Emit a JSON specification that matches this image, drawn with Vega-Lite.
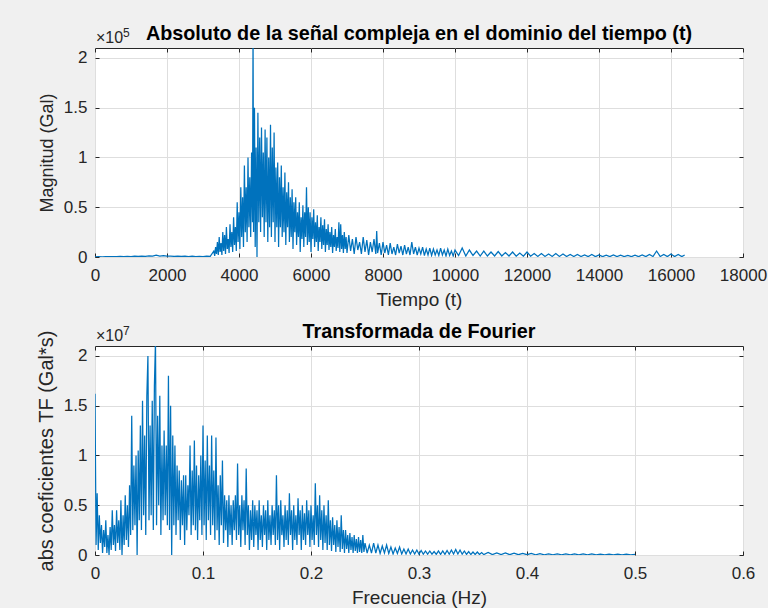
{
  "$schema": "https://vega.github.io/schema/vega-lite/v6.json",
  "background": "#f0f0f0",
  "padding": {"left": 35, "top": 23, "right": 0, "bottom": 0},
  "bounds": "flush",
  "spacing": 89,
  "config": {
    "font": "Liberation Sans",
    "view": {"fill": "white", "stroke": "#262626", "strokeWidth": 1},
    "axis": {
      "domain": false,
      "tickColor": "#262626",
      "tickSize": -4,
      "labelFont": "Liberation Sans",
      "labelFontSize": 17,
      "labelColor": "#262626",
      "titleFont": "Liberation Sans",
      "titleFontSize": 19,
      "titleFontWeight": "normal",
      "titleColor": "#262626",
      "gridColor": "#dedede",
      "gridWidth": 1,
      "labelFlush": false,
      "labelOverlap": false
    },
    "axisY": {"labelPadding": 12, "titlePadding": 7},
    "axisX": {"labelPadding": 14, "titlePadding": 7},
    "title": {"font": "Liberation Sans", "fontSize": 19.8, "fontWeight": "bold", "color": "#000000", "frame": "group", "offset": -17}
  },
  "datasets": {
    "sig": [
      {"t":0,"m":0.002},{"t":100,"m":0.004},{"t":200,"m":0.002},{"t":300,"m":0.004},{"t":400,"m":0.003},{"t":500,"m":0.005},{"t":600,"m":0.003},{"t":700,"m":0.006},{"t":800,"m":0.004},{"t":900,"m":0.007},{"t":1000,"m":0.005},{"t":1100,"m":0.008},{"t":1200,"m":0.006},{"t":1300,"m":0.009},{"t":1400,"m":0.007},{"t":1500,"m":0.012},{"t":1600,"m":0.008},{"t":1700,"m":0.018},{"t":1800,"m":0.01},{"t":1900,"m":0.014},{"t":2000,"m":0.008},{"t":2100,"m":0.01},{"t":2200,"m":0.006},{"t":2300,"m":0.009},{"t":2400,"m":0.006},{"t":2500,"m":0.008},{"t":2600,"m":0.005},{"t":2700,"m":0.008},{"t":2800,"m":0.005},{"t":2900,"m":0.007},{"t":3000,"m":0.005},{"t":3100,"m":0.008},{"t":3200,"m":0.006},
      {"t":3300,"m":0.06},{"t":3325,"m":0.01},{"t":3350,"m":0.1},{"t":3375,"m":0.03},{"t":3400,"m":0.15},{"t":3425,"m":0.02},{"t":3450,"m":0.2},{"t":3475,"m":0.05},{"t":3500,"m":0.14},{"t":3525,"m":0.02},{"t":3550,"m":0.25},{"t":3575,"m":0.06},{"t":3600,"m":0.22},{"t":3625,"m":0.03},{"t":3650,"m":0.3},{"t":3675,"m":0.08},{"t":3700,"m":0.18},{"t":3725,"m":0.04},{"t":3750,"m":0.33},{"t":3775,"m":0.1},{"t":3800,"m":0.25},{"t":3825,"m":0.05},{"t":3850,"m":0.4},{"t":3875,"m":0.12},{"t":3900,"m":0.3},{"t":3925,"m":0.06},{"t":3950,"m":0.55},{"t":3975,"m":0.15},{"t":4000,"m":0.45},{"t":4025,"m":0.08},{"t":4050,"m":0.7},{"t":4075,"m":0.2},{"t":4100,"m":0.6},{"t":4125,"m":0.1},{"t":4150,"m":0.92},{"t":4175,"m":0.25},{"t":4200,"m":0.7},{"t":4225,"m":0.15},{"t":4250,"m":1.0},{"t":4275,"m":0.3},{"t":4300,"m":0.8},{"t":4325,"m":0.2},{"t":4350,"m":1.05},{"t":4375,"m":0.35},{"t":4390,"m":2.3},{"t":4405,"m":0.25},{"t":4430,"m":1.5},{"t":4450,"m":0.1},{"t":4475,"m":1.1},{"t":4500,"m":0.0},{"t":4525,"m":1.45},{"t":4550,"m":0.35},{"t":4575,"m":1.2},{"t":4600,"m":0.25},{"t":4625,"m":1.3},{"t":4650,"m":0.4},{"t":4675,"m":1.05},{"t":4700,"m":0.2},{"t":4725,"m":1.28},{"t":4750,"m":0.35},{"t":4775,"m":1.2},{"t":4800,"m":0.15},{"t":4825,"m":1.0},{"t":4850,"m":0.3},{"t":4875,"m":1.33},{"t":4900,"m":0.2},{"t":4925,"m":1.1},{"t":4950,"m":0.35},{"t":4975,"m":1.25},{"t":5000,"m":0.15},{"t":5025,"m":0.9},{"t":5050,"m":0.3},{"t":5075,"m":0.95},{"t":5100,"m":0.1},{"t":5125,"m":0.8},{"t":5150,"m":0.3},{"t":5175,"m":0.92},{"t":5200,"m":0.2},{"t":5225,"m":0.7},{"t":5250,"m":0.25},{"t":5275,"m":0.85},{"t":5300,"m":0.12},{"t":5325,"m":0.65},{"t":5350,"m":0.3},{"t":5375,"m":0.75},{"t":5400,"m":0.15},{"t":5425,"m":0.6},{"t":5450,"m":0.2},{"t":5475,"m":0.68},{"t":5500,"m":0.08},{"t":5525,"m":0.55},{"t":5550,"m":0.25},{"t":5575,"m":0.6},{"t":5600,"m":0.12},{"t":5625,"m":0.45},{"t":5650,"m":0.2},{"t":5675,"m":0.55},{"t":5700,"m":0.05},{"t":5725,"m":0.4},{"t":5750,"m":0.18},{"t":5775,"m":0.52},{"t":5800,"m":0.1},{"t":5825,"m":0.45},{"t":5850,"m":0.2},{"t":5875,"m":0.7},{"t":5900,"m":0.12},{"t":5925,"m":0.5},{"t":5950,"m":0.15},{"t":5975,"m":0.45},{"t":6000,"m":0.05},{"t":6025,"m":0.4},{"t":6050,"m":0.18},{"t":6075,"m":0.48},{"t":6100,"m":0.1},{"t":6125,"m":0.35},{"t":6150,"m":0.15},{"t":6175,"m":0.42},{"t":6200,"m":0.06},{"t":6225,"m":0.3},{"t":6250,"m":0.15},{"t":6275,"m":0.4},{"t":6300,"m":0.08},{"t":6325,"m":0.32},{"t":6350,"m":0.12},{"t":6375,"m":0.38},{"t":6400,"m":0.05},{"t":6425,"m":0.28},{"t":6450,"m":0.12},{"t":6475,"m":0.33},{"t":6500,"m":0.07},{"t":6525,"m":0.25},{"t":6550,"m":0.1},{"t":6575,"m":0.3},{"t":6600,"m":0.04},{"t":6625,"m":0.22},{"t":6650,"m":0.1},{"t":6675,"m":0.28},{"t":6700,"m":0.06},{"t":6725,"m":0.2},{"t":6750,"m":0.09},{"t":6775,"m":0.35},{"t":6800,"m":0.05},{"t":6825,"m":0.33},{"t":6850,"m":0.08},{"t":6875,"m":0.22},{"t":6900,"m":0.04},{"t":6925,"m":0.25},{"t":6950,"m":0.08},{"t":6975,"m":0.2},{"t":7000,"m":0.04},
      {"t":7050,"m":0.22},{"t":7100,"m":0.06},{"t":7150,"m":0.18},{"t":7200,"m":0.03},{"t":7250,"m":0.2},{"t":7300,"m":0.07},{"t":7350,"m":0.15},{"t":7400,"m":0.03},{"t":7450,"m":0.2},{"t":7500,"m":0.05},{"t":7550,"m":0.17},{"t":7600,"m":0.02},{"t":7650,"m":0.15},{"t":7700,"m":0.05},{"t":7750,"m":0.18},{"t":7800,"m":0.03},{"t":7825,"m":0.26},{"t":7850,"m":0.04},{"t":7900,"m":0.14},{"t":7950,"m":0.02},{"t":8000,"m":0.15},{"t":8050,"m":0.04},{"t":8100,"m":0.12},{"t":8150,"m":0.02},{"t":8200,"m":0.14},{"t":8250,"m":0.03},{"t":8300,"m":0.1},{"t":8350,"m":0.02},{"t":8400,"m":0.13},{"t":8450,"m":0.04},{"t":8500,"m":0.11},{"t":8550,"m":0.02},{"t":8600,"m":0.12},{"t":8650,"m":0.03},{"t":8700,"m":0.1},{"t":8750,"m":0.02},{"t":8800,"m":0.15},{"t":8850,"m":0.03},{"t":8900,"m":0.1},{"t":8950,"m":0.02},{"t":9000,"m":0.09},{"t":9050,"m":0.03},{"t":9100,"m":0.1},{"t":9150,"m":0.015},{"t":9200,"m":0.08},{"t":9250,"m":0.02},{"t":9300,"m":0.09},{"t":9350,"m":0.015},{"t":9400,"m":0.08},{"t":9450,"m":0.02},{"t":9500,"m":0.07},{"t":9550,"m":0.015},{"t":9600,"m":0.09},{"t":9650,"m":0.02},{"t":9700,"m":0.07},{"t":9750,"m":0.01},{"t":9800,"m":0.08},{"t":9850,"m":0.015},{"t":9900,"m":0.06},{"t":9950,"m":0.01},{"t":10000,"m":0.07},
      {"t":10100,"m":0.015},{"t":10200,"m":0.09},{"t":10300,"m":0.01},{"t":10400,"m":0.07},{"t":10500,"m":0.015},{"t":10600,"m":0.06},{"t":10700,"m":0.01},{"t":10800,"m":0.06},{"t":10900,"m":0.01},{"t":11000,"m":0.05},{"t":11100,"m":0.01},{"t":11200,"m":0.055},{"t":11300,"m":0.01},{"t":11400,"m":0.045},{"t":11500,"m":0.01},{"t":11600,"m":0.05},{"t":11700,"m":0.008},{"t":11800,"m":0.04},{"t":11900,"m":0.008},{"t":12000,"m":0.05},{"t":12100,"m":0.008},{"t":12200,"m":0.035},{"t":12300,"m":0.006},{"t":12400,"m":0.035},{"t":12500,"m":0.006},{"t":12600,"m":0.03},{"t":12700,"m":0.006},{"t":12800,"m":0.035},{"t":12900,"m":0.006},{"t":13000,"m":0.03},{"t":13100,"m":0.005},{"t":13200,"m":0.025},{"t":13300,"m":0.005},{"t":13400,"m":0.025},{"t":13500,"m":0.005},{"t":13600,"m":0.02},{"t":13700,"m":0.004},{"t":13800,"m":0.025},{"t":13900,"m":0.004},{"t":14000,"m":0.02},{"t":14100,"m":0.004},{"t":14200,"m":0.018},{"t":14300,"m":0.004},{"t":14400,"m":0.02},{"t":14500,"m":0.004},{"t":14600,"m":0.018},{"t":14700,"m":0.004},{"t":14800,"m":0.016},{"t":14900,"m":0.004},{"t":15000,"m":0.018},{"t":15100,"m":0.004},{"t":15200,"m":0.02},{"t":15300,"m":0.004},{"t":15400,"m":0.025},{"t":15500,"m":0.005},{"t":15600,"m":0.06},{"t":15700,"m":0.005},{"t":15800,"m":0.025},{"t":15900,"m":0.004},{"t":16000,"m":0.03},{"t":16100,"m":0.004},{"t":16200,"m":0.025},{"t":16300,"m":0.004},{"t":16380,"m":0.02}
    ],
    "fft": [
      {"f":0.000,"a":1.62},{"f":0.001,"a":0.1},{"f":0.002,"a":0.62},{"f":0.003,"a":0.05},{"f":0.004,"a":0.4},{"f":0.005,"a":0.12},{"f":0.006,"a":0.3},{"f":0.007,"a":0.02},{"f":0.008,"a":0.25},{"f":0.009,"a":0.08},{"f":0.010,"a":0.35},{"f":0.011,"a":0.02},{"f":0.012,"a":0.2},{"f":0.013,"a":0.0},{"f":0.014,"a":0.28},{"f":0.015,"a":0.05},{"f":0.016,"a":0.45},{"f":0.017,"a":0.1},{"f":0.018,"a":0.3},{"f":0.019,"a":0.04},{"f":0.020,"a":0.45},{"f":0.021,"a":0.12},{"f":0.022,"a":0.35},{"f":0.023,"a":0.05},{"f":0.024,"a":0.55},{"f":0.025,"a":0.0},{"f":0.026,"a":0.4},{"f":0.027,"a":0.1},{"f":0.028,"a":0.6},{"f":0.029,"a":0.15},{"f":0.030,"a":0.5},{"f":0.031,"a":0.08},{"f":0.032,"a":0.7},{"f":0.033,"a":0.2},{"f":0.034,"a":1.4},{"f":0.035,"a":0.25},{"f":0.036,"a":0.9},{"f":0.037,"a":0.3},{"f":0.038,"a":1.0},{"f":0.039,"a":0.0},{"f":0.040,"a":1.05},{"f":0.041,"a":0.35},{"f":0.042,"a":1.3},{"f":0.043,"a":0.25},{"f":0.044,"a":1.55},{"f":0.045,"a":0.4},{"f":0.046,"a":1.2},{"f":0.047,"a":0.2},{"f":0.048,"a":1.6},{"f":0.049,"a":2.0},{"f":0.050,"a":0.35},{"f":0.051,"a":1.3},{"f":0.052,"a":0.4},{"f":0.053,"a":1.55},{"f":0.054,"a":0.25},{"f":0.055,"a":1.7},{"f":0.056,"a":2.15},{"f":0.057,"a":0.3},{"f":0.058,"a":1.4},{"f":0.059,"a":0.5},{"f":0.060,"a":1.6},{"f":0.061,"a":0.2},{"f":0.062,"a":1.1},{"f":0.063,"a":0.35},{"f":0.064,"a":1.25},{"f":0.065,"a":0.4},{"f":0.066,"a":1.1},{"f":0.067,"a":0.3},{"f":0.068,"a":1.8},{"f":0.069,"a":0.25},{"f":0.070,"a":1.5},{"f":0.071,"a":0.0},{"f":0.072,"a":1.2},{"f":0.073,"a":0.3},{"f":0.074,"a":1.1},{"f":0.075,"a":0.2},{"f":0.076,"a":0.9},{"f":0.077,"a":0.35},{"f":0.078,"a":0.85},{"f":0.079,"a":0.15},{"f":0.080,"a":0.75},{"f":0.081,"a":0.3},{"f":0.082,"a":0.8},{"f":0.083,"a":0.1},{"f":0.084,"a":0.8},{"f":0.085,"a":0.25},{"f":0.086,"a":0.7},{"f":0.087,"a":0.4},{"f":0.088,"a":1.1},{"f":0.089,"a":0.2},{"f":0.090,"a":0.85},{"f":0.091,"a":0.3},{"f":0.092,"a":1.15},{"f":0.093,"a":0.25},{"f":0.094,"a":0.9},{"f":0.095,"a":0.15},{"f":0.096,"a":0.8},{"f":0.097,"a":0.35},{"f":0.098,"a":1.0},{"f":0.099,"a":0.2},{"f":0.100,"a":1.3},{"f":0.101,"a":0.3},{"f":0.102,"a":0.95},{"f":0.103,"a":0.15},{"f":0.104,"a":1.2},{"f":0.105,"a":0.35},{"f":0.106,"a":0.9},{"f":0.107,"a":0.2},{"f":0.108,"a":1.2},{"f":0.109,"a":0.3},{"f":0.110,"a":0.85},{"f":0.111,"a":0.15},{"f":0.112,"a":1.18},{"f":0.113,"a":0.25},{"f":0.114,"a":0.7},{"f":0.115,"a":0.1},{"f":0.116,"a":0.8},{"f":0.117,"a":0.3},{"f":0.118,"a":0.95},{"f":0.119,"a":0.12},{"f":0.120,"a":0.6},{"f":0.121,"a":0.25},{"f":0.122,"a":0.55},{"f":0.123,"a":0.08},{"f":0.124,"a":0.6},{"f":0.125,"a":0.2},{"f":0.126,"a":0.5},{"f":0.127,"a":0.1},{"f":0.128,"a":0.55},{"f":0.129,"a":0.25},{"f":0.130,"a":0.6},{"f":0.131,"a":0.15},{"f":0.132,"a":0.92},{"f":0.133,"a":0.2},{"f":0.134,"a":0.5},{"f":0.135,"a":0.08},{"f":0.136,"a":0.6},{"f":0.137,"a":0.25},{"f":0.138,"a":0.55},{"f":0.139,"a":0.1},{"f":0.140,"a":0.87},{"f":0.141,"a":0.2},{"f":0.142,"a":0.5},{"f":0.143,"a":0.05},{"f":0.144,"a":0.45},{"f":0.145,"a":0.15},{"f":0.146,"a":0.55},{"f":0.147,"a":0.08},{"f":0.148,"a":0.5},{"f":0.149,"a":0.2},{"f":0.150,"a":0.45},{"f":0.151,"a":0.05},{"f":0.152,"a":0.55},{"f":0.153,"a":0.15},{"f":0.154,"a":0.4},{"f":0.155,"a":0.08},{"f":0.156,"a":0.5},{"f":0.157,"a":0.2},{"f":0.158,"a":0.45},{"f":0.159,"a":0.05},{"f":0.160,"a":0.55},{"f":0.161,"a":0.15},{"f":0.162,"a":0.4},{"f":0.163,"a":0.1},{"f":0.164,"a":0.5},{"f":0.165,"a":0.2},{"f":0.166,"a":0.45},{"f":0.167,"a":0.1},{"f":0.168,"a":0.8},{"f":0.169,"a":0.15},{"f":0.170,"a":0.5},{"f":0.171,"a":0.05},{"f":0.172,"a":0.55},{"f":0.173,"a":0.2},{"f":0.174,"a":0.4},{"f":0.175,"a":0.08},{"f":0.176,"a":0.5},{"f":0.177,"a":0.15},{"f":0.178,"a":0.45},{"f":0.179,"a":0.1},{"f":0.180,"a":0.62},{"f":0.181,"a":0.2},{"f":0.182,"a":0.45},{"f":0.183,"a":0.05},{"f":0.184,"a":0.5},{"f":0.185,"a":0.15},{"f":0.186,"a":0.4},{"f":0.187,"a":0.1},{"f":0.188,"a":0.57},{"f":0.189,"a":0.2},{"f":0.190,"a":0.45},{"f":0.191,"a":0.05},{"f":0.192,"a":0.5},{"f":0.193,"a":0.15},{"f":0.194,"a":0.42},{"f":0.195,"a":0.1},{"f":0.196,"a":0.55},{"f":0.197,"a":0.2},{"f":0.198,"a":0.45},{"f":0.199,"a":0.08},{"f":0.200,"a":0.5},{"f":0.201,"a":0.15},{"f":0.202,"a":0.4},{"f":0.203,"a":0.1},{"f":0.204,"a":0.72},{"f":0.205,"a":0.2},{"f":0.206,"a":0.5},{"f":0.207,"a":0.08},{"f":0.208,"a":0.6},{"f":0.209,"a":0.15},{"f":0.210,"a":0.45},{"f":0.211,"a":0.05},{"f":0.212,"a":0.5},{"f":0.213,"a":0.12},{"f":0.214,"a":0.4},{"f":0.215,"a":0.05},{"f":0.216,"a":0.55},{"f":0.217,"a":0.1},{"f":0.218,"a":0.35},{"f":0.219,"a":0.04},{"f":0.220,"a":0.38},{"f":0.221,"a":0.1},{"f":0.222,"a":0.3},{"f":0.223,"a":0.03},{"f":0.224,"a":0.35},{"f":0.225,"a":0.08},{"f":0.226,"a":0.28},{"f":0.227,"a":0.03},{"f":0.228,"a":0.4},{"f":0.229,"a":0.06},{"f":0.230,"a":0.25},{"f":0.231,"a":0.02},{"f":0.232,"a":0.25},{"f":0.233,"a":0.06},{"f":0.234,"a":0.2},{"f":0.235,"a":0.02},{"f":0.236,"a":0.22},{"f":0.237,"a":0.05},{"f":0.238,"a":0.18},{"f":0.239,"a":0.02},{"f":0.240,"a":0.2},{"f":0.241,"a":0.04},{"f":0.242,"a":0.16},{"f":0.243,"a":0.02},{"f":0.244,"a":0.18},{"f":0.245,"a":0.03},{"f":0.246,"a":0.15},{"f":0.247,"a":0.02},{"f":0.248,"a":0.2},{"f":0.249,"a":0.03},{"f":0.250,"a":0.12},
      {"f":0.252,"a":0.02},{"f":0.254,"a":0.1},{"f":0.256,"a":0.02},{"f":0.258,"a":0.12},{"f":0.260,"a":0.02},{"f":0.262,"a":0.1},{"f":0.264,"a":0.015},{"f":0.266,"a":0.09},{"f":0.268,"a":0.02},{"f":0.270,"a":0.1},{"f":0.272,"a":0.015},{"f":0.274,"a":0.08},{"f":0.276,"a":0.01},{"f":0.278,"a":0.07},{"f":0.280,"a":0.015},{"f":0.282,"a":0.08},{"f":0.284,"a":0.01},{"f":0.286,"a":0.06},{"f":0.288,"a":0.01},{"f":0.290,"a":0.06},{"f":0.292,"a":0.01},{"f":0.294,"a":0.05},{"f":0.296,"a":0.01},{"f":0.298,"a":0.05},{"f":0.300,"a":0.008},{"f":0.302,"a":0.045},{"f":0.304,"a":0.008},{"f":0.306,"a":0.04},{"f":0.308,"a":0.008},{"f":0.310,"a":0.04},{"f":0.312,"a":0.008},{"f":0.314,"a":0.035},{"f":0.316,"a":0.006},{"f":0.318,"a":0.04},{"f":0.320,"a":0.006},{"f":0.322,"a":0.04},{"f":0.324,"a":0.006},{"f":0.326,"a":0.045},{"f":0.328,"a":0.008},{"f":0.330,"a":0.05},{"f":0.332,"a":0.01},{"f":0.334,"a":0.055},{"f":0.336,"a":0.01},{"f":0.338,"a":0.05},{"f":0.340,"a":0.008},{"f":0.342,"a":0.04},{"f":0.344,"a":0.006},{"f":0.346,"a":0.035},{"f":0.348,"a":0.005},{"f":0.350,"a":0.03},{"f":0.352,"a":0.005},{"f":0.354,"a":0.03},{"f":0.356,"a":0.005},{"f":0.358,"a":0.025},{"f":0.360,"a":0.004},{"f":0.364,"a":0.025},{"f":0.368,"a":0.004},{"f":0.372,"a":0.022},{"f":0.376,"a":0.004},{"f":0.380,"a":0.02},{"f":0.384,"a":0.003},{"f":0.388,"a":0.018},{"f":0.392,"a":0.003},{"f":0.396,"a":0.016},{"f":0.400,"a":0.003},{"f":0.404,"a":0.015},{"f":0.408,"a":0.002},{"f":0.412,"a":0.013},{"f":0.416,"a":0.002},{"f":0.420,"a":0.012},{"f":0.424,"a":0.002},{"f":0.428,"a":0.012},{"f":0.432,"a":0.002},{"f":0.436,"a":0.011},{"f":0.440,"a":0.002},{"f":0.444,"a":0.01},{"f":0.448,"a":0.002},{"f":0.452,"a":0.01},{"f":0.456,"a":0.002},{"f":0.460,"a":0.01},{"f":0.464,"a":0.002},{"f":0.468,"a":0.009},{"f":0.472,"a":0.002},{"f":0.476,"a":0.009},{"f":0.480,"a":0.002},{"f":0.484,"a":0.008},{"f":0.488,"a":0.002},{"f":0.492,"a":0.008},{"f":0.496,"a":0.002},{"f":0.500,"a":0.006}
    ]
  },
  "vconcat": [
    {
      "width": 648,
      "height": 209,
      "title": {"text": "Absoluto de la señal compleja en el dominio del tiempo (t)"},
      "layer": [
        {
          "data": {"name": "sig"},
          "mark": {"type": "line", "color": "#0072BD", "strokeWidth": 1.25, "clip": true},
          "encoding": {
            "x": {"field": "t", "type": "quantitative", "scale": {"domain": [0, 18000], "nice": false, "zero": false},
                  "axis": {"values": [0,2000,4000,6000,8000,10000,12000,14000,16000,18000], "format": "~r", "title": "Tiempo (t)", "grid": true}},
            "y": {"field": "m", "type": "quantitative", "scale": {"domain": [0, 2.1], "nice": false},
                  "axis": {"values": [0,0.5,1,1.5,2], "format": "~r", "title": "Magnitud (Gal)", "titleFontSize": 18, "grid": true}}
          }
        },
        {
          "data": {"name": "sig"},
          "mark": {"type": "line", "strokeOpacity": 0},
          "encoding": {
            "x": {"field": "t", "type": "quantitative", "axis": {"orient": "top", "labels": false, "grid": false, "title": null, "values": [0,2000,4000,6000,8000,10000,12000,14000,16000,18000]}},
            "y": {"field": "m", "type": "quantitative", "axis": {"orient": "right", "labels": false, "grid": false, "title": null, "values": [0,0.5,1,1.5,2]}}
          }
        },
        {
          "data": {"values": [{"lab": "×10", "sup": "5"}]},
          "mark": {"type": "text", "align": "left", "baseline": "alphabetic", "dx": 1, "dy": -5, "fontSize": 16, "color": "#262626"},
          "encoding": {
            "x": {"datum": 0, "type": "quantitative", "axis": null},
            "y": {"datum": 2.1, "type": "quantitative", "axis": null},
            "text": {"field": "lab"}
          }
        },
        {
          "data": {"values": [{"lab": "×10", "sup": "5"}]},
          "mark": {"type": "text", "align": "left", "baseline": "alphabetic", "dx": 28, "dy": -11, "fontSize": 12, "color": "#262626"},
          "encoding": {
            "x": {"datum": 0, "type": "quantitative", "axis": null},
            "y": {"datum": 2.1, "type": "quantitative", "axis": null},
            "text": {"field": "sup"}
          }
        }
      ],
      "resolve": {"axis": {"x": "independent", "y": "independent"}}
    },
    {
      "width": 648,
      "height": 209,
      "title": {"text": "Transformada de Fourier"},
      "layer": [
        {
          "data": {"name": "fft"},
          "mark": {"type": "line", "color": "#0072BD", "strokeWidth": 1.25, "clip": true},
          "encoding": {
            "x": {"field": "f", "type": "quantitative", "scale": {"domain": [0, 0.6], "nice": false, "zero": false},
                  "axis": {"values": [0,0.1,0.2,0.3,0.4,0.5,0.6], "format": "~r", "title": "Frecuencia (Hz)", "grid": true}},
            "y": {"field": "a", "type": "quantitative", "scale": {"domain": [0, 2.1], "nice": false},
                  "axis": {"values": [0,0.5,1,1.5,2], "format": "~r", "title": "abs coeficientes TF (Gal*s)", "titleFontSize": 20, "grid": true}}
          }
        },
        {
          "data": {"name": "fft"},
          "mark": {"type": "line", "strokeOpacity": 0},
          "encoding": {
            "x": {"field": "f", "type": "quantitative", "axis": {"orient": "top", "labels": false, "grid": false, "title": null, "values": [0,0.1,0.2,0.3,0.4,0.5,0.6]}},
            "y": {"field": "a", "type": "quantitative", "axis": {"orient": "right", "labels": false, "grid": false, "title": null, "values": [0,0.5,1,1.5,2]}}
          }
        },
        {
          "data": {"values": [{"lab": "×10", "sup": "7"}]},
          "mark": {"type": "text", "align": "left", "baseline": "alphabetic", "dx": 1, "dy": -5, "fontSize": 16, "color": "#262626"},
          "encoding": {
            "x": {"datum": 0, "type": "quantitative", "axis": null},
            "y": {"datum": 2.1, "type": "quantitative", "axis": null},
            "text": {"field": "lab"}
          }
        },
        {
          "data": {"values": [{"lab": "×10", "sup": "7"}]},
          "mark": {"type": "text", "align": "left", "baseline": "alphabetic", "dx": 28, "dy": -11, "fontSize": 12, "color": "#262626"},
          "encoding": {
            "x": {"datum": 0, "type": "quantitative", "axis": null},
            "y": {"datum": 2.1, "type": "quantitative", "axis": null},
            "text": {"field": "sup"}
          }
        }
      ],
      "resolve": {"axis": {"x": "independent", "y": "independent"}}
    }
  ]
}
